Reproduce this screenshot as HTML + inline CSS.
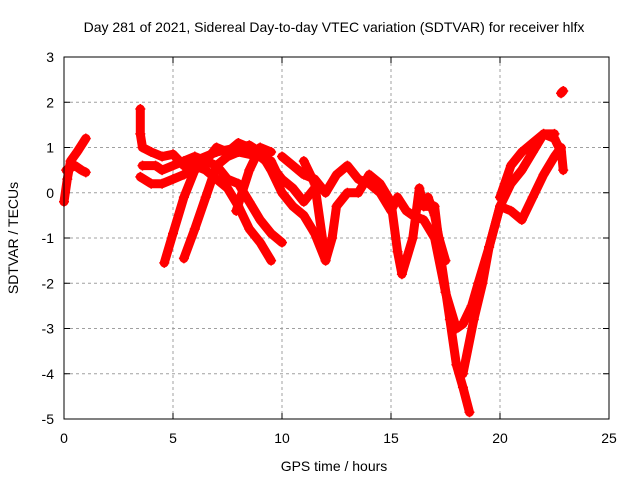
<!DOCTYPE html>
<html><head><meta charset="utf-8"><style>
body{margin:0;background:#fff}
svg{display:block;font-family:"Liberation Sans",sans-serif}
</style></head><body>
<svg id="chart" width="640" height="480">
<text x="334" y="32" font-size="14" text-anchor="middle">Day 281 of 2021, Sidereal Day-to-day VTEC variation (SDTVAR) for receiver hlfx</text>
<text x="334" y="471" font-size="14" text-anchor="middle">GPS time / hours</text>
<text transform="translate(18,238) rotate(-90)" font-size="14" text-anchor="middle">SDTVAR / TECUs</text>
<g id="grid"></g><g id="ticks"></g><g id="series"></g>
<rect x="64" y="57" width="545" height="362" fill="none" stroke="#000" stroke-width="1"/>
</svg>
<script>
const xTicks=[0,5,10,15,20,25];
const yTicks=[3,2,1,0,-1,-2,-3,-4,-5];
const trace1=[[0,-0.2],[0.15,0.3],[0.3,0.7],[0.6,0.9],[1,1.2]];
const trace2=[[0.1,0.5],[0.5,0.6],[0.8,0.5],[1,0.45]];
const trace3=[[3.5,0.35],[4,0.2],[4.5,0.2],[5,0.3],[5.5,0.4],[6,0.6],[6.5,0.5],[7,0.3],[7.5,0.1],[8,-0.3],[8.5,-0.8],[9,-1.1],[9.5,-1.5]];
const trace4=[[3.6,0.6],[4.2,0.6],[4.5,0.5],[5,0.6],[5.5,0.7],[6,0.8],[6.5,0.7],[7,0.6],[7.5,0.3],[8,0.2],[8.5,-0.2],[9,-0.6],[9.5,-0.9],[10,-1.1]];
const trace5=[[3.5,1.85],[3.5,1.3],[3.6,1.0],[4,0.9],[4.5,0.8],[5,0.85],[5.5,0.6],[6,0.7],[7,0.9],[8,1.0],[8.5,1.05],[9,0.9],[9.5,0.5],[10,0],[10.5,-0.3],[11,-0.5],[11.5,-0.9],[12,-1.5]];
const trace6=[[4.6,-1.55],[5,-0.9],[5.5,-0.1],[6,0.5],[6.5,0.7],[7,1.0],[7.5,0.9],[8,1.1],[8.5,1.0],[9,0.8],[9.5,0.6],[10,0.3],[10.5,0.1],[11,-0.2],[11.5,0.1]];
const trace7=[[5.5,-1.45],[6,-0.8],[6.5,-0.1],[7,0.6],[7.5,0.8],[8,0.9],[9,0.8],[9.5,0.7],[10,0.2]];
const trace8=[[7.9,-0.4],[8.5,0.5],[9,1.0],[9.5,0.9]];
const trace9=[[10,0.8],[10.5,0.6],[11,0.4],[11.5,0.3],[12,0.0],[12.5,0.4],[13,0.6],[13.5,0.3],[14,0.2],[14.5,0.0],[15,-0.4],[15.3,-0.1],[15.7,-0.4],[16,-0.5],[16.5,-0.6],[17,-1.0],[17.5,-2.2],[18,-3.0],[18.3,-2.9],[18.7,-2.5],[19,-2.0],[19.5,-1.2],[20,-0.3],[20.5,0.2],[21,0.5],[21.5,0.9],[22,1.3],[22.5,1.2],[22.8,0.9]];
const trace10=[[11,0.7],[11.5,0.2],[12,-1.5],[12.3,-1.0],[12.5,-0.3],[13,0.0],[13.5,0.0],[14,0.4],[14.5,0.2],[15,-0.2],[15.3,-1.3],[15.5,-1.8],[16,-1.0],[16.3,0.1],[16.5,-0.3],[17,-0.3],[17.3,-1.5],[17.7,-2.8],[18,-3.8],[18.3,-4.3],[18.6,-4.85]];
const trace11=[[18.3,-4.0],[18.8,-2.8],[19.2,-2.0],[19.5,-1.2],[20,-0.3],[20.5,-0.4],[21,-0.6],[21.5,-0.1],[22,0.4],[22.5,0.8],[22.8,1.0],[22.9,0.5]];
const trace12=[[20,-0.1],[20.5,0.6],[21,0.9],[21.5,1.1],[22,1.3],[22.5,1.3]];
const trace13=[[16.7,-0.1],[17,-0.5],[17.2,-1.0],[17.5,-1.5]];
const trace14=[[22.8,2.2],[22.9,2.25]];
const traces=[trace1,trace2,trace3,trace4,trace5,trace6,trace7,trace8,trace9,trace10,trace11,trace12,trace13,trace14];
const X0=64,X1=609,Y0=57,Y1=419;
const sx=v=>X0+(v-0)/25*(X1-X0);
const sy=v=>Y0+(3-v)/8*(Y1-Y0);
const NS="http://www.w3.org/2000/svg";
const grid=document.getElementById('grid'),ticks=document.getElementById('ticks'),ser=document.getElementById('series');
function mk(tag,attrs,parent){const e=document.createElementNS(NS,tag);for(const k in attrs)e.setAttribute(k,attrs[k]);parent.appendChild(e);return e;}
xTicks.forEach(t=>{const x=sx(t);
 if(t>0&&t<25){const g=mk('line',{x1:x,x2:x,y1:Y0,y2:Y1,stroke:'#a0a0a0','stroke-dasharray':'3,3'},grid);
 
 }
 mk('line',{x1:x,x2:x,y1:Y1,y2:Y1-6,stroke:'#000'},ticks);
 mk('line',{x1:x,x2:x,y1:Y0,y2:Y0+6,stroke:'#000'},ticks);
 const l=mk('text',{x:x,y:Y1+24,'font-size':14,'text-anchor':'middle'},ticks);l.textContent=t;
 
 });
yTicks.forEach(t=>{const y=sy(t);
 if(t<3&&t>-5){const g=mk('line',{x1:X0,x2:X1,y1:y,y2:y,stroke:'#a0a0a0','stroke-dasharray':'3,3'},grid);
 
 }
 mk('line',{x1:X0,x2:X0+6,y1:y,y2:y,stroke:'#000'},ticks);
 mk('line',{x1:X1,x2:X1-6,y1:y,y2:y,stroke:'#000'},ticks);
 const l=mk('text',{x:X0-10,y:y+5,'font-size':14,'text-anchor':'end'},ticks);l.textContent=t;
 
 });
traces.forEach((tr,i)=>{
 const pts=tr.map(p=>sx(p[0])+','+sy(p[1])).join(' ');
 const pl=mk('polyline',{points:pts,fill:'none',stroke:'#f00','stroke-width':9,'stroke-linejoin':'round','stroke-linecap':'round'},ser);
 
 
 tr.forEach(p=>{const x=sx(p[0]),y=sy(p[1]);
  const m=mk('path',{d:`M${x-5},${y}h10M${x},${y-5}v10`,stroke:'#f00','stroke-width':1.5},ser);
  
  });
});
</script>
</body></html>
